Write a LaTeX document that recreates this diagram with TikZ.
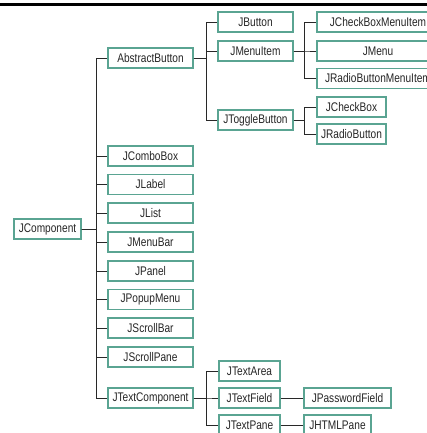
\documentclass[tikz,border=0pt]{standalone}
\usepackage{fontspec}
\usetikzlibrary{positioning}
\newfontfamily\clsfont{Liberation Sans}[FakeStretch=0.81]
\definecolor{cBox}{RGB}{ 90,164,146}
\definecolor{cLn} {RGB}{ 40, 40, 40}
\tikzset{
  cls/.style={
    rectangle, draw=cBox, fill=white, line width=1.1pt,
    minimum width=#1, minimum height=20pt, inner sep=0pt,
    font=\clsfont\fontsize{12.5}{14}\selectfont, text=black!85
  },
  ln/.style={line width=0.9pt, draw=cLn},
}

\begin{document}
\begin{tikzpicture}[x=1pt, y=-1pt]
\useasboundingbox (0,0) rectangle (427,433);
\begin{scope}
\clip (0,0) rectangle (427,433);

%% ── Top rule ─────────────────────────────────────────────────────────────────
\fill[black] (0,3.5) rectangle (427,6.5);

%% ── Root ─────────────────────────────────────────────────────────────────────
\node[cls=67pt] (jcomp) at (47.5,229) {JComponent};

%% ── Direct subclasses (x = 150.5) ────────────────────────────────────────────
\node[cls=85pt] (abtn)    at (150.5, 58)   {AbstractButton};
\node[cls=85pt] (combo)   at (150.5,156)   {JComboBox};
\node[cls=85pt] (label)   at (150.5,184.5) {JLabel};
\node[cls=85pt] (list)    at (150.5,213)   {JList};
\node[cls=85pt] (menubar) at (150.5,242)   {JMenuBar};
\node[cls=85pt] (panel)   at (150.5,271)   {JPanel};
\node[cls=85pt] (popup)   at (150.5,299.5) {JPopupMenu};
\node[cls=85pt] (sbar)    at (150.5,328)   {JScrollBar};
\node[cls=85pt] (spane)   at (150.5,357)   {JScrollPane};
\node[cls=85pt] (tcomp)   at (150.5,398)   {JTextComponent};

%% ── Buttons ──────────────────────────────────────────────────────────────────
\node[cls=75pt] (button)   at (255.5, 22) {JButton};
\node[cls=75pt] (menuitem) at (255.5, 51) {JMenuItem};
\node[cls=75pt] (toggle)   at (255.5,120) {JToggleButton};

\node[cls=122pt] (cbmi)  at (378, 22)   {JCheckBoxMenuItem};
\node[cls=122pt] (menu)  at (378, 51)   {JMenu};
\node[cls=122pt] (rbmi)  at (378, 78.5) {JRadioButtonMenuItem};
\node[cls=69pt]  (chk)   at (351.5,107) {JCheckBox};
\node[cls=69pt]  (radio) at (351.5,134) {JRadioButton};

%% ── Text components ──────────────────────────────────────────────────────────
\node[cls=61pt] (tarea)  at (249.5,371) {JTextArea};
\node[cls=61pt] (tfield) at (249.5,398) {JTextField};
\node[cls=61pt] (tpane)  at (249.5,425) {JTextPane};
\node[cls=87pt] (pwd)    at (347.5,398) {JPasswordField};
\node[cls=67pt] (html)   at (337.5,425) {JHTMLPane};

%% ── Connectors ───────────────────────────────────────────────────────────────
\foreach \c in {abtn,combo,label,list,menubar,panel,popup,sbar,spane,tcomp}
  \draw[ln] (jcomp.east) -- ++(15,0) |- (\c.west);
\foreach \c in {button,menuitem,toggle}
  \draw[ln] (abtn.east) -- ++(13,0) |- (\c.west);
\foreach \c in {cbmi,menu,rbmi}
  \draw[ln] (menuitem.east) -- ++(11,0) |- (\c.west);
\foreach \c in {chk,radio}
  \draw[ln] (toggle.east) -- ++(11,0) |- (\c.west);
\foreach \c in {tarea,tfield,tpane}
  \draw[ln] (tcomp.east) -- ++(13,0) |- (\c.west);
\draw[ln] (tfield.east) -- (pwd.west);
\draw[ln] (tpane.east)  -- (html.west);

\end{scope}
\end{tikzpicture}
\end{document}
